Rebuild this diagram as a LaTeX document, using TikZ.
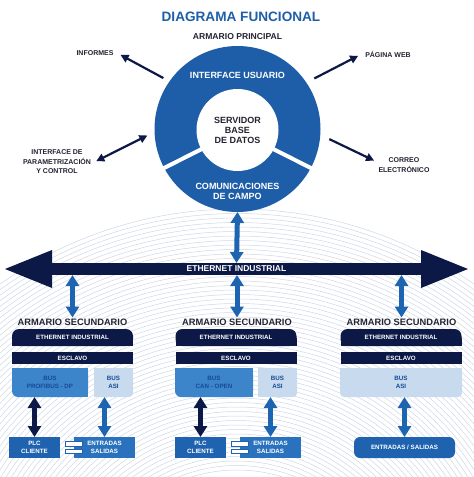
\documentclass[tikz,border=0pt]{standalone}
\usepackage{fontspec}
\setmainfont{Liberation Sans}
\usetikzlibrary{arrows.meta,backgrounds,positioning}

\definecolor{navy}{RGB}{12,25,70}
\definecolor{ringblue}{RGB}{30,94,168}
\definecolor{arrowblue}{RGB}{29,101,177}
\definecolor{midblue}{RGB}{60,133,203}
\definecolor{paleblue}{RGB}{199,218,238}
\definecolor{boxblue}{RGB}{31,99,176}
\definecolor{ioblue}{RGB}{42,114,190}
\definecolor{inkblue}{RGB}{22,75,150}
\definecolor{labelgray}{RGB}{35,35,50}
\definecolor{wave}{RGB}{205,215,229}

\begin{document}
\begin{tikzpicture}[x=1pt, y=-1pt, >={Triangle[width=8pt 0,length=8pt 0]}]
  \tikzstyle{sidetext}=[font=\fontsize{7}{9.5}\selectfont\bfseries, text=labelgray, align=center]
  \tikzstyle{ringtext}=[font=\fontsize{9}{10}\selectfont\bfseries, text=white, align=center]
  \tikzstyle{sectitle}=[font=\fontsize{9.3}{10}\selectfont\bfseries, text=labelgray, inner sep=1pt]
  \tikzstyle{boxtext}=[font=\fontsize{6.2}{8}\selectfont\bfseries, align=center, inner sep=0, outer sep=0]
  \tikzstyle{hdrbox}=[boxtext, fill=navy, text=white, rounded corners=7pt, minimum width=121pt, minimum height=17pt]
  \tikzstyle{slavebox}=[boxtext, fill=navy, text=white, minimum width=121pt, minimum height=12pt]
  \tikzstyle{busbox}=[boxtext, fill=midblue, text=inkblue, rounded corners=6pt, minimum height=29pt]
  \tikzstyle{asibox}=[boxtext, fill=paleblue, text=inkblue, rounded corners=4pt, minimum height=29pt]
  \tikzstyle{plcbox}=[boxtext, fill=boxblue, text=white, minimum width=51pt, minimum height=21pt]
  \tikzstyle{iobox}=[boxtext, fill=ioblue, text=white, minimum width=61pt, minimum height=21pt]
  \tikzstyle{link}=[draw=navy, line width=2.2pt]
  \tikzstyle{fat}=[draw=arrowblue, line width=5pt, {Triangle[width=13pt 0,length=11pt 0]}-{Triangle[width=13pt 0,length=11pt 0]}]
  \tikzstyle{fatnavy}=[fat, draw=navy]
  \tikzstyle{plug}=[draw=boxblue, fill=white, line width=1pt]

  \useasboundingbox (0,0) rectangle (474,477);

  % titles
  \node[font=\fontsize{13.6}{15}\selectfont\bfseries, text=ringblue] (title) at (241,17) {DIAGRAMA FUNCIONAL};
  \node[font=\fontsize{8.6}{10}\selectfont\bfseries, text=labelgray] (main) at (237.5,37) {ARMARIO PRINCIPAL};

  % main cabinet
  \node[circle, fill=ringblue, minimum size=166pt, inner sep=0, outer sep=0] (ring) at (237.5,129) {};
  \node[circle, fill=white, minimum size=82pt, inner sep=0, outer sep=0,
        font=\fontsize{9}{10}\selectfont\bfseries, text=labelgray, align=center] (core) at (237.5,130) {SERVIDOR\\BASE\\DE DATOS};
  \draw[white, line width=4pt, shorten <=-2pt, shorten >=-2pt] (core.208) -- (ring.208);
  \draw[white, line width=4pt, shorten <=-2pt, shorten >=-2pt] (core.-28) -- (ring.-28);
  \node[ringtext] (ui) at (237.5,75) {INTERFACE USUARIO};
  \node[ringtext] (cc) at (237.5,191) {COMUNICACIONES\\DE CAMPO};

  % outputs
  \node[sidetext] (inf)   at (95,53)  {INFORMES};
  \node[sidetext] (web)   at (388,54) {PÁGINA WEB};
  \node[sidetext] (param) at (57,162) {INTERFACE DE\\PARAMETRIZACIÓN\\Y CONTROL};
  \node[sidetext] (mail)  at (404,165) {CORREO\\ELECTRÓNICO};

  \draw[link, ->, shorten <=7pt, shorten >=4pt] (ring.145) -- (inf.east);
  \draw[link, ->, shorten <=9pt, shorten >=4pt] (ring.34) -- (web.west);
  \draw[link, <->, shorten <=8pt, shorten >=2pt] (ring.182) -- (param.east);
  \draw[link, ->, shorten <=10pt, shorten >=1pt] (ring.-4) -- ([yshift=4pt]mail.west);

  % ethernet
  \node[fill=navy, text=white, font=\fontsize{8.5}{10}\selectfont\bfseries, minimum width=373pt,
        minimum height=12pt, inner sep=0, outer sep=0] (eth) at (236.5,269) {ETHERNET INDUSTRIAL};
  \fill[navy] ([xshift=2pt,yshift=19pt]eth.west) -- ([xshift=-45pt]eth.west) -- ([xshift=2pt,yshift=-19pt]eth.west) -- cycle;
  \fill[navy] ([xshift=-2pt,yshift=19pt]eth.east) -- ([xshift=45pt]eth.east) -- ([xshift=-2pt,yshift=-19pt]eth.east) -- cycle;
  \draw[fat] (ring.south) -- (eth.north);

  % secondary cabinets
  \node[sectitle] (arm1) at (72.5,322)  {ARMARIO SECUNDARIO};
  \node[sectitle] (arm2) at (237,322)   {ARMARIO SECUNDARIO};
  \node[sectitle] (arm3) at (401.5,322) {ARMARIO SECUNDARIO};
  \draw[fat] (eth.south -| arm1.north) -- (arm1.north);
  \draw[fat] (eth.south -| arm2.north) -- (arm2.north);
  \draw[fat] (eth.south -| arm3.north) -- (arm3.north);

  \node[hdrbox] (eth1) at (72.5,337.5) {ETHERNET INDUSTRIAL};
  \node[hdrbox] (eth2) at (236,337.5)  {ETHERNET INDUSTRIAL};
  \node[hdrbox] (eth3) at (401,337.5)  {ETHERNET INDUSTRIAL};
  \node[slavebox] (esc1) at (72.5,358) {ESCLAVO};
  \node[slavebox] (esc2) at (236,358)  {ESCLAVO};
  \node[slavebox] (esc3) at (401,358)  {ESCLAVO};

  \node[busbox, minimum width=76pt] (pb)   at (50,382.5)    {BUS\\PROFIBUS - DP};
  \node[asibox, minimum width=39pt] (asi1) at (113.5,382.5) {BUS\\ASI};
  \node[busbox, minimum width=78pt] (can)  at (214,382.5)   {BUS\\CAN - OPEN};
  \node[asibox, minimum width=39pt] (asi2) at (277.5,382.5) {BUS\\ASI};
  \node[asibox, minimum width=122pt] (asi3) at (401,382.5)  {BUS\\ASI};

  \node[plcbox] (plc1) at (34.5,447.5)  {PLC\\CLIENTE};
  \node[iobox]  (ent1) at (104.5,447.5) {ENTRADAS\\SALIDAS};
  \node[plcbox] (plc2) at (200.5,447.5) {PLC\\CLIENTE};
  \node[iobox]  (ent2) at (270.5,447.5) {ENTRADAS\\SALIDAS};
  \node[plcbox, minimum width=101pt, rounded corners=6pt] (es3) at (404.5,447.5) {ENTRADAS / SALIDAS};

  \draw[plug] ([shift={(-9,-6)}]ent1.west) rectangle ([shift={(8,-1.5)}]ent1.west);
  \draw[plug] ([shift={(-9,1.5)}]ent1.west) rectangle ([shift={(8,6)}]ent1.west);
  \draw[plug] ([shift={(-9,-6)}]ent2.west) rectangle ([shift={(8,-1.5)}]ent2.west);
  \draw[plug] ([shift={(-9,1.5)}]ent2.west) rectangle ([shift={(8,6)}]ent2.west);

  \draw[fatnavy] (plc1.north |- pb.south) -- (plc1.north);
  \draw[fat] (ent1.north |- asi1.south) -- (ent1.north);
  \draw[fatnavy] (plc2.north |- can.south) -- (plc2.north);
  \draw[fat] (ent2.north |- asi2.south) -- (ent2.north);
  \draw[fat] (es3.north |- asi3.south) -- (es3.north);

  \begin{scope}[on background layer]
    \begin{scope}
      \clip (0,0) rectangle (474,477);
      \foreach \r in {150,154.5,...,412}
        \draw[wave, line width=0.5pt] (237,620) circle[radius=\r];
    \end{scope}
    % square corners behind the rounded boxes
    \fill[navy] (eth1.south west) rectangle (eth1.east);
    \fill[navy] (eth2.south west) rectangle (eth2.east);
    \fill[navy] (eth3.south west) rectangle (eth3.east);
    \fill[midblue] (pb.north west) rectangle (pb.east);
    \fill[midblue] (pb.north) rectangle (pb.south east);
    \fill[midblue] (can.north west) rectangle (can.east);
    \fill[midblue] (can.north) rectangle (can.south east);
    \fill[paleblue] (asi1.north west) rectangle (asi1.east);
    \fill[paleblue] (asi1.north west) rectangle (asi1.south);
    \fill[paleblue] (asi2.north west) rectangle (asi2.east);
    \fill[paleblue] (asi2.north west) rectangle (asi2.south);
    \fill[paleblue] (asi3.north west) rectangle (asi3.east);
  \end{scope}
\end{tikzpicture}
\end{document}
